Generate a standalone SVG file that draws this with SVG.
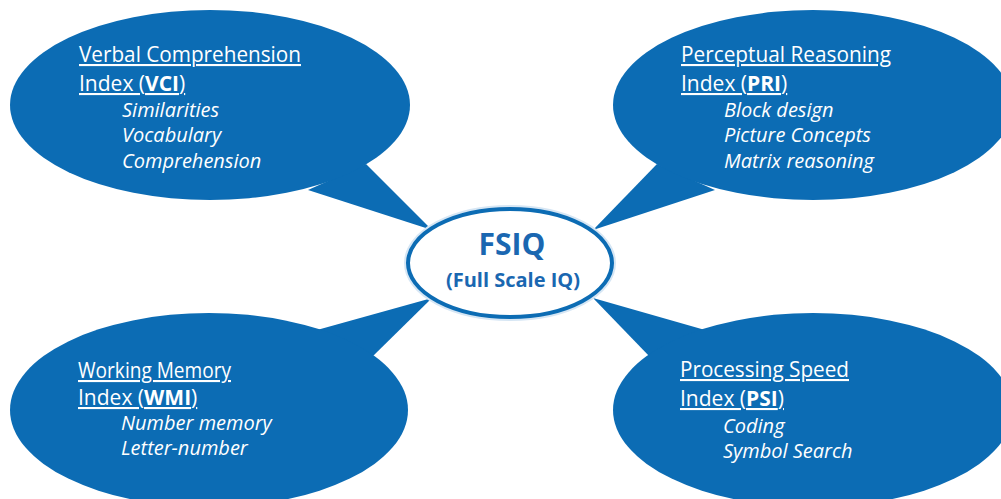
<svg xmlns="http://www.w3.org/2000/svg" width="1001" height="499" viewBox="0 0 1001 499">
<style>
.bubble{fill:#0c6cb4}
.tail{fill:#0c6cb4}
.t{font-family:"Open Sans","Noto Sans",sans-serif;fill:#ffffff;font-size:20px}
.h{font-size:21px}
.u{text-decoration:underline}
.i{font-style:italic}
.b{font-weight:bold}
.c{font-family:"Open Sans","Noto Sans",sans-serif;fill:#1a67b1;font-weight:bold;text-anchor:middle}
</style>
<rect width="1001" height="499" fill="#ffffff"/>
<g id="connectors">
<polygon class="tail" points="366,164 432,230 308,190"/>
<polygon class="tail" points="657,164 593,230 715,190"/>
<polygon class="tail" points="317,330 432,298 372,357"/>
<polygon class="tail" points="705,330 593,298 650,357"/>
</g>
<g id="vci">
<ellipse class="bubble" cx="210" cy="105" rx="200" ry="95"/>
<text class="t h u" x="79" y="62" textLength="222" lengthAdjust="spacingAndGlyphs">Verbal Comprehension</text>
<text class="t h u" x="79" y="91">Index (<tspan class="b">VCI</tspan>)</text>
<text class="t i" x="122" y="117">Similarities</text>
<text class="t i" x="122" y="142">Vocabulary</text>
<text class="t i" x="122" y="168">Comprehension</text>
</g>
<g id="pri">
<ellipse class="bubble" cx="813" cy="105" rx="200" ry="95"/>
<text class="t h u" x="681" y="62" textLength="210" lengthAdjust="spacingAndGlyphs">Perceptual Reasoning</text>
<text class="t h u" x="681" y="91">Index (<tspan class="b">PRI</tspan>)</text>
<text class="t i" x="724" y="117">Block design</text>
<text class="t i" x="724" y="142">Picture Concepts</text>
<text class="t i" x="724" y="168">Matrix reasoning</text>
</g>
<g id="wmi">
<ellipse class="bubble" cx="209" cy="410" rx="199" ry="97"/>
<text class="t h u" x="78" y="378" textLength="153" lengthAdjust="spacingAndGlyphs">Working Memory</text>
<text class="t h u" x="78" y="405">Index (<tspan class="b">WMI</tspan>)</text>
<text class="t i" x="121" y="430">Number memory</text>
<text class="t i" x="121" y="455">Letter-number</text>
</g>
<g id="psi">
<ellipse class="bubble" cx="813" cy="410" rx="200" ry="97"/>
<text class="t h u" x="680" y="377" textLength="169" lengthAdjust="spacingAndGlyphs">Processing Speed</text>
<text class="t h u" x="680" y="406">Index (<tspan class="b">PSI</tspan>)</text>
<text class="t i" x="723" y="433">Coding</text>
<text class="t i" x="723" y="458">Symbol Search</text>
</g>
<g id="fsiq">
<ellipse cx="510" cy="263" rx="102" ry="54" fill="#ffffff" stroke="#d6e6f4" stroke-width="8"/>
<ellipse cx="510" cy="263" rx="102" ry="54" fill="#ffffff" stroke="#0c6cb4" stroke-width="4"/>
<text class="c" x="512" y="255" font-size="30">FSIQ</text>
<text class="c" x="513" y="287" font-size="20">(Full Scale IQ)</text>
</g>
</svg>
